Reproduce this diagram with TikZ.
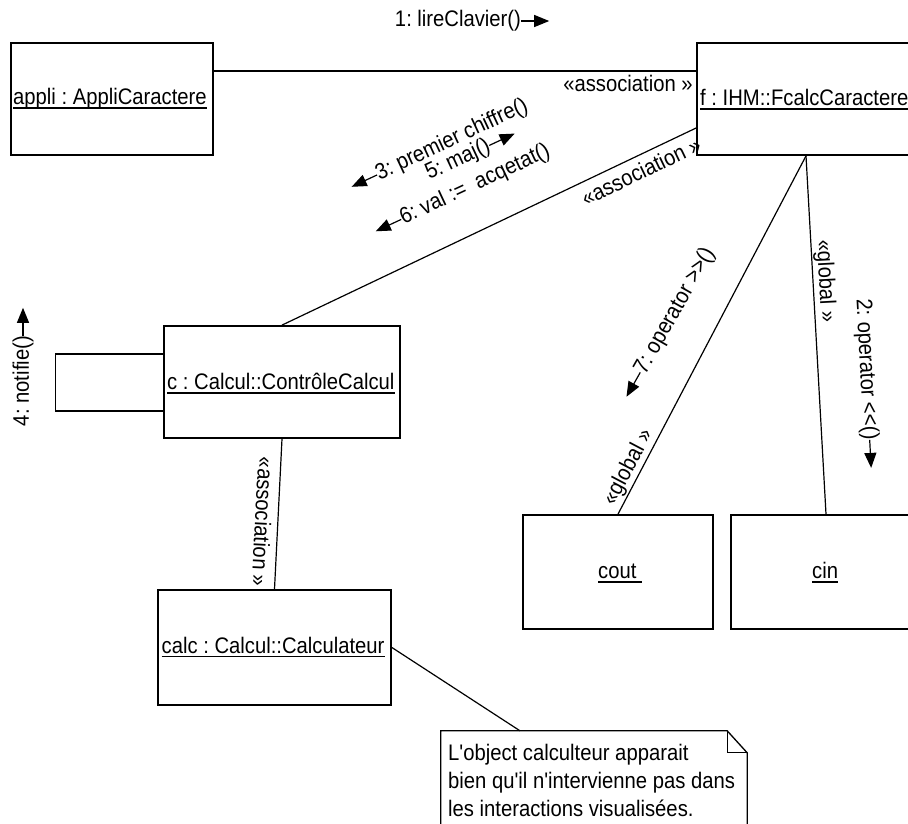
\documentclass[tikz,border=0pt]{standalone}
\usepackage{fontspec}
\newfontfamily\uifont{Liberation Sans}[FakeStretch=0.9]
\usetikzlibrary{arrows.meta,calc}
\begin{document}
\begin{tikzpicture}[x=1pt,y=-1pt,
  font={\uifont\fontsize{22.5}{28}\selectfont\frenchspacing},
  objbox/.style={draw, line width=1.8pt, inner sep=0pt},
  objname/.style={anchor=base west, inner sep=0pt},
  uline/.style={line width=1.6pt},
  link/.style={line width=1.2pt},
  lbl/.style={inner sep=0pt},
  msg/.style={line width=1.2pt, -{Triangle[length=15pt,width=12pt]}},
  notebox/.style={line width=1.3pt}]
\clip (0,0) rectangle (908,823);

% object boxes
\node[objbox, minimum width=202pt, minimum height=112pt] (appli) at (112,99) {};
\node[objbox, minimum width=218pt, minimum height=112pt] (f) at (806,99) {};
\node[objbox, minimum width=236pt, minimum height=112pt] (c) at (282,382) {};
\node[objbox, minimum width=233pt, minimum height=115pt] (calc) at (274.5,647.5) {};
\node[objbox, minimum width=190pt, minimum height=114pt] (cout) at (618,572) {};
\node[objbox, minimum width=190pt, minimum height=114pt] (cin) at (826,572) {};

% underlined object names
\node[objname] (appliname) at (13,104.5) {appli : AppliCaractere};
\node[objname] (fname) at (700,105.5) {f : IHM::FcalcCaractere};
\node[objname] (cname) at (167,389.5) {c : Calcul::ContrôleCalcul};
\node[objname] (calcname) at (161.5,653) {calc : Calcul::Calculateur};
\node[objname] (coutname) at (598,578.5) {cout\kern5.6pt};
\node[objname] (cinname) at (812,578.5) {cin};
\foreach \n in {appliname,fname,cname,calcname,coutname,cinname}
  \draw[uline] ([yshift=-3.6pt]\n.base west) -- ([yshift=-3.6pt]\n.base east);

% links between objects
\draw[link] ([yshift=28pt]appli.east) -- ([yshift=28pt]f.west);
\draw[link] (c.north) -- ([yshift=-29pt]f.west);
\draw[link] (f.south) -- (cout.north);
\draw[link] (f.south) -- (cin.north);
\draw[link] (c.south) -- (calc.north);
\draw[link] ([yshift=28pt]c.west) -- ++(-108,0) |- ([yshift=-29pt]c.west);

% note with folded corner
\node[inner sep=0pt, minimum width=306pt, minimum height=120pt] (note) at (594,791) {};
\draw[notebox] (note.south west) -- (note.north west) -- ([xshift=-20pt]note.north east)
  -- ([yshift=-22pt]note.north east) -- (note.south east);
\draw[notebox] ([xshift=-20pt]note.north east) |- ([yshift=-22pt]note.north east);
\node[anchor=north west, align=left, inner sep=0pt] (notetext) at (448,744)
  {L'object calculteur apparait\\bien qu'il n'intervienne pas dans\\les interactions visualisées.};
\draw[link] (calc.east) -- ([xshift=-74pt]note.north);

% stereotypes
\node[lbl] (a1) at (628,83) {«association »};
\node[lbl, rotate=25.6] (a2) at (641,171) {«association »};
\node[lbl, rotate=-93] (a3) at (263,522) {«association »};
\node[lbl, rotate=62.2] (g1) at (628.5,467) {«global »};
\node[lbl, rotate=-87] (g2) at (825,281) {«global »};

% messages
\node[lbl] (m1) at (458,21) {1: lireClavier()};
\draw[msg] (m1.east) -- ($(m1.east)!-28pt!(m1.west)$);
\node[lbl, rotate=-87] (m2) at (866,369.5) {2: operator <<()};
\draw[msg] (m2.east) -- ($(m2.east)!-28pt!(m2.west)$);
\node[lbl, rotate=25] (m3) at (452,140) {3: premier chiffre()};
\draw[msg] (m3.west) -- ($(m3.west)!-28pt!(m3.east)$);
\node[lbl, rotate=90] (m4) at (23,381) {4: notifie()};
\draw[msg] (m4.east) -- ($(m4.east)!-28pt!(m4.west)$);
\node[lbl, rotate=25] (m5) at (458,160) {5: maj()};
\draw[msg] (m5.east) -- ($(m5.east)!-28pt!(m5.west)$);
\node[lbl, rotate=25] (m6) at (475,185) {6: val :=~ acqetat()};
\draw[msg] (m6.west) -- ($(m6.west)!-28pt!(m6.east)$);
\node[lbl, rotate=60.5] (m7) at (675,311) {7: operator >>()};
\draw[msg] (m7.west) -- ($(m7.west)!-28pt!(m7.east)$);
\end{tikzpicture}
\end{document}
